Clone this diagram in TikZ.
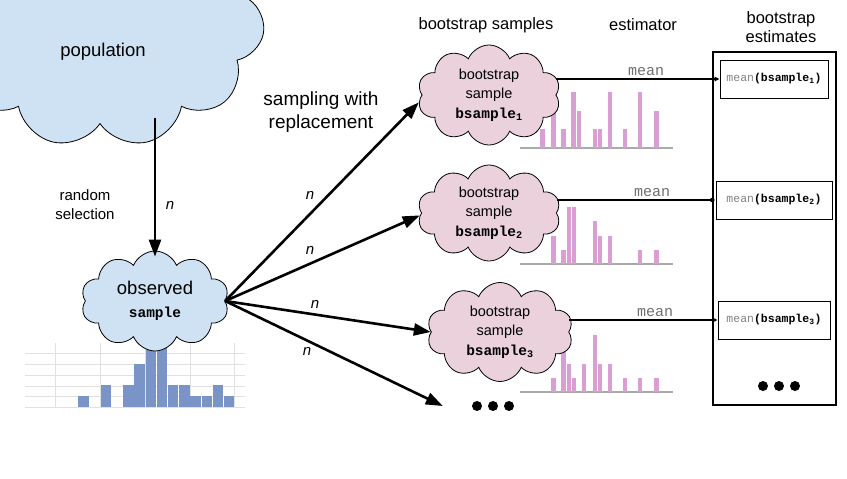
\documentclass[tikz,border=0pt]{standalone}
\usepackage{fontspec}
\setmainfont{Liberation Sans}
\setmonofont{Liberation Mono}
\usetikzlibrary{shapes.symbols,arrows.meta,calc}
\definecolor{popblue}{RGB}{207,226,243}
\definecolor{bspink}{RGB}{234,209,220}
\definecolor{barblue}{RGB}{122,148,199}
\definecolor{barpink}{RGB}{217,158,211}
\definecolor{gridgray}{RGB}{225,225,225}
\definecolor{basegray}{RGB}{170,170,170}
\definecolor{meangray}{RGB}{110,110,110}
\definecolor{meanlight}{RGB}{130,130,130}
\tikzset{
  bigarrow/.style={line width=2.6pt, -{Triangle[length=17pt,width=12pt]}},
  meanarrow/.style={line width=1.1pt, -{Triangle[length=5pt,width=4.5pt]}},
  cloudbase/.style={cloud, cloud puffs=10, cloud puff arc=135, cloud ignores aspect,
    draw=black, line width=0.8pt, inner sep=0pt, align=center},
  bluecloud/.style={cloudbase, fill=popblue},
  pinkcloud/.style={cloudbase, fill=bspink, font=\fontsize{14.5}{19.5}\selectfont},
  estbox/.style={draw, line width=0.9pt, inner sep=0pt, minimum height=38pt,
    font=\fontsize{11.5}{13}\selectfont\ttfamily},
  hdr/.style={font=\fontsize{16.5}{19}\selectfont, align=center},
  nlab/.style={font=\fontsize{15}{18}\selectfont\itshape},
  meanlab/.style={font=\fontsize{15}{18}\selectfont\ttfamily, text=meangray, above, inner sep=3pt},
  dotsnode/.style={inner sep=0pt, minimum height=12pt},
}
\newcommand{\bsname}[1]{\texttt{\bfseries bsample\textsubscript{#1}}}
\newcommand{\estname}[1]{\textcolor{meanlight}{mean}\textbf{(bsample\textsubscript{#1})}}
\begin{document}
\begin{tikzpicture}[x=1pt,y=-1pt]
\path[use as bounding box] (0,0) rectangle (847,479);
\clip (0,0) rectangle (847,479);

% population cloud
\node[bluecloud, cloud puffs=11, minimum width=330pt, minimum height=265pt] (pop) at (100,15) {};
\node[font=\fontsize{18.5}{22}\selectfont] (poplabel) at (103,52) {population};

% random selection
\node[font=\fontsize{15}{19}\selectfont, align=center] (randsel) at (85,205) {random\\selection};
\node[nlab] (n0) at (170,205) {n};

% histogram of observed sample
\foreach \yy in {353,364,375,386,396,407} \draw[gridgray, line width=0.8pt] (25,\yy) -- (245,\yy);
\foreach \xx in {55,100,145,190,234} \draw[gridgray, line width=0.8pt] (\xx,343) -- (\xx,407);
\foreach \i/\h in {0/1,2/2,4/2,5/4,6/6,7/6,8/2,9/2,10/1,11/1,12/2,13/1}
  \fill[barblue] ({78.3+11.2*\i},407) rectangle ++(10.4,{-10.8*\h});

% observed cloud
\node[bluecloud, minimum width=148pt, minimum height=100pt, font=\fontsize{18.5}{23}\selectfont] (obs) at (155,301)
  {observed\\{\ttfamily\bfseries\fontsize{14.5}{15}\selectfont sample}};

\coordinate (popout) at (155,118);
\draw[bigarrow, shorten >=-6pt] (popout) -- (obs.north);

% bootstrap histograms
\draw[basegray, line width=1.4pt] (520,148) -- (673,148);
\foreach \x/\h in {542.7/1,553.3/2,563.3/1,573.3/3,579/2,595/1,600/1,610/3,625/1,640/3,656.7/2}
  \fill[barpink] ({\x-2.3},148) rectangle ++(4.6,{-18.7*\h});
\draw[basegray, line width=1.4pt] (520,264) -- (673,264);
\foreach \x/\h in {553.3/2,563.3/1,569/4,574/4,595/3,600/2,610/2,640/1,656.7/1}
  \fill[barpink] ({\x-2.3},264) rectangle ++(4.6,{-14.2*\h});
\draw[basegray, line width=1.4pt] (520,392) -- (673,392);
\foreach \x/\h in {553.3/1,563.3/3,569/2,574/1,584/2,595/4,600/2,610/2,625/1,640/1,656.7/1}
  \fill[barpink] ({\x-2.3},392) rectangle ++(4.6,{-14.2*\h});

% bootstrap clouds
\node[pinkcloud, minimum width=143pt, minimum height=100pt] (c1) at (489,95) {bootstrap\\sample\\\bsname{1}};
\node[pinkcloud, minimum width=143pt, minimum height=96pt] (c2) at (489,213) {bootstrap\\sample\\\bsname{2}};
\node[pinkcloud, minimum width=146pt, minimum height=99pt] (c3) at (500,332) {bootstrap\\sample\\\bsname{3}};
\node[dotsnode, minimum width=100pt] (dots) at (493,406) {};
\foreach \dx in {-16,0,16} \fill ($(dots.center)+(\dx,0)$) circle (5pt);

% headers
\node[hdr] (hbs) at (486,25) {bootstrap samples};
\node[hdr] (hest) at (643,25) {estimator};
\node[hdr] (hbe) at (781,27) {bootstrap\\estimates};
\node[font=\fontsize{19}{23}\selectfont, align=center] (swr) at (321,112) {sampling with\\replacement};

% sampling arrows
\draw[bigarrow] (obs.east) -- (c1.186);
\draw[bigarrow] (obs.east) -- (c2.182);
\draw[bigarrow] (obs.east) -- (c3.west);
\draw[bigarrow] (obs.east) -- (dots.west);
\node[nlab] (n1) at (310,195) {n};
\node[nlab] (n2) at (310,250) {n};
\node[nlab] (n3) at (315,304) {n};
\node[nlab] (n4) at (307,351) {n};

% estimates column
\node[draw, line width=1.8pt, minimum width=123pt, minimum height=353pt, inner sep=0pt] (estcol) at (774.5,228.5) {};
\node[estbox, minimum width=108pt] (e1) at (774,79) {\estname{1}};
\node[estbox, minimum width=116pt] (e2) at (774,200) {\estname{2}};
\node[estbox, minimum width=112pt] (e3) at (774,320) {\estname{3}};
\node[dotsnode, minimum width=44pt] (edots) at (779,386) {};
\foreach \dx in {-16,0,16} \fill ($(edots.center)+(\dx,0)$) circle (5pt);

% mean arrows
\draw[meanarrow] (c1.east |- e1.west) -- node[meanlab, pos=0.55] {mean} (e1.west);
\draw[meanarrow] (c2.east |- e2.west) -- node[meanlab, pos=0.6] {mean} (e2.west);
\draw[meanarrow] (c3.east |- e3.west) -- node[meanlab, pos=0.58] {mean} (e3.west);
\end{tikzpicture}
\end{document}
